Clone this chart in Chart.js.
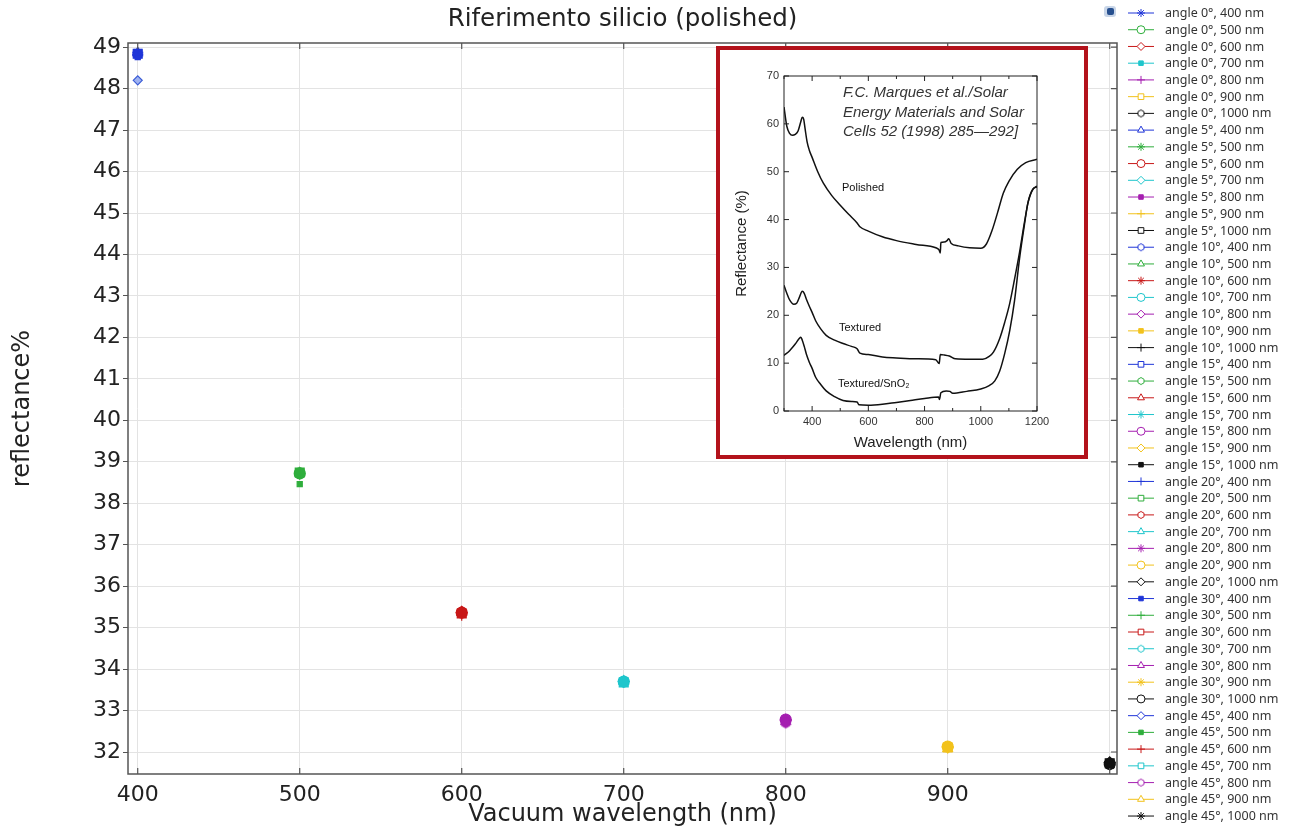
<!DOCTYPE html>
<html>
<head>
<meta charset="utf-8">
<title>Riferimento silicio (polished)</title>
<script src="https://cdn.jsdelivr.net/npm/chart.js@4.4.1/dist/chart.umd.min.js"></script>
<style>
  html, body { margin: 0; padding: 0; background: #fff; }
  #base { position: relative; width: 1290px; height: 832px; overflow: hidden; }
  #grafica { position: absolute; left: 0; top: 0; }
  #riquadro { position: absolute; left: 716px; top: 46px; width: 372px; height: 413px;
              box-sizing: border-box; border: 4px solid #b3121b; background: #fff; }
  #graficaInset { display: block; }
</style>
</head>
<body>
<div id="base"></div>
<script>
/* DATI GRAFICO PRINCIPALE */
const angoli = [0, 5, 10, 15, 20, 30, 45];
const lunghezzeOnda = [400, 500, 600, 700, 800, 900, 1000];

const rifl0  = [48.86, 38.72, 35.36, 33.70, 32.76, 32.11, 31.73];
const rifl5  = [48.86, 38.72, 35.36, 33.70, 32.76, 32.11, 31.73];
const rifl10 = [48.85, 38.73, 35.37, 33.70, 32.77, 32.11, 31.73];
const rifl15 = [48.84, 38.73, 35.38, 33.71, 32.78, 32.12, 31.74];
const rifl20 = [48.82, 38.74, 35.39, 33.71, 32.79, 32.13, 31.75];
const rifl30 = [48.76, 38.70, 35.34, 33.69, 32.74, 32.10, 31.71];
const rifl45 = [48.20, 38.46, 35.30, 33.68, 32.70, 32.08, 31.69];
const riflPerAngolo = [rifl0, rifl5, rifl10, rifl15, rifl20, rifl30, rifl45];

const xTicks = [400, 500, 600, 700, 800, 900, 1000];
const xTickLabels = ['400', '500', '600', '700', '800', '900', ''];
const yTicks = [32, 33, 34, 35, 36, 37, 38, 39, 40, 41, 42, 43, 44, 45, 46, 47, 48, 49];

/* DATI INSET (Marques et al.) */
const polishedX = [300, 310, 320, 330, 340, 350, 360, 365, 370, 375, 382, 390, 400, 420, 440, 470, 500, 530, 560, 570, 600, 650, 700, 770, 840, 852, 856, 858, 870, 880, 886, 895, 920, 960, 1000, 1020, 1040, 1060, 1080, 1100, 1130, 1160, 1200];
const polishedY = [63.5, 59.5, 58.0, 57.6, 57.8, 58.5, 60.5, 61.4, 61.0, 59.0, 56.3, 54.5, 53.0, 50.0, 47.6, 45.0, 43.0, 41.1, 39.3, 38.5, 37.6, 36.4, 35.6, 34.8, 34.1, 33.6, 33.0, 35.2, 35.3, 35.6, 36.0, 35.0, 34.5, 34.1, 34.0, 34.9, 37.7, 41.5, 45.5, 48.0, 50.5, 51.9, 52.6];

const texturedX = [300, 310, 320, 335, 345, 355, 365, 372, 380, 390, 400, 413, 430, 450, 480, 510, 540, 560, 570, 600, 650, 700, 770, 840, 852, 856, 870, 888, 910, 960, 1007, 1030, 1045, 1067, 1085, 1103, 1120, 1138, 1155, 1168, 1185, 1200];
const texturedY = [26.3, 24.6, 23.2, 22.3, 22.5, 23.8, 25.0, 24.6, 23.3, 21.9, 20.6, 18.8, 17.2, 15.8, 14.8, 14.1, 13.5, 13.0, 12.1, 11.8, 11.3, 11.1, 10.9, 10.7, 9.9, 11.8, 11.7, 11.5, 10.9, 10.8, 10.8, 11.4, 12.3, 15.1, 18.5, 22.5, 27.5, 33.2, 39.3, 43.5, 46.3, 47.0];

const snoX = [300, 320, 340, 355, 360, 365, 372, 380, 390, 400, 413, 430, 450, 480, 510, 540, 560, 566, 600, 650, 700, 750, 800, 850, 853, 858, 877, 890, 900, 950, 1000, 1030, 1050, 1067, 1085, 1103, 1120, 1138, 1155, 1168, 1186, 1200];
const snoY = [11.6, 12.6, 14.0, 15.2, 15.4, 14.8, 13.5, 11.8, 10.2, 8.9, 7.0, 5.6, 4.2, 3.0, 2.2, 2.0, 1.9, 1.3, 1.2, 1.4, 1.8, 2.2, 2.6, 2.9, 2.4, 3.8, 4.2, 4.1, 3.7, 4.1, 4.6, 5.3, 6.3, 8.3, 12.0, 16.8, 23.0, 31.9, 38.8, 43.6, 46.4, 46.8];

const insetXTicks = [300, 400, 500, 600, 700, 800, 900, 1000, 1100, 1200];
const insetXLabels = [400, 600, 800, 1000, 1200];
const insetYTicks = [0, 10, 20, 30, 40, 50, 60, 70];

/* STILI */
const coloriOnda = ['#1f35d8', '#2fae3c', '#c81818', '#1fc6cc', '#a51fb0', '#f2c21c', '#111111'];
const tipiMarker = ['star', 'circle', 'rectRot', 'point', 'cross', 'rect', 'hex', 'triangle'];
const markerAperto = [false, true, true, false, false, true, true, true];

function esagono(colore, r, pieno) {
  let c = document.createElement('canvas');
  let s = Math.ceil(2 * r + 3);
  c.width = s; c.height = s;
  let g = c.getContext('2d');
  g.strokeStyle = colore;
  g.fillStyle = pieno ? colore : '#ffffff';
  g.lineWidth = 1;
  g.beginPath();
  for (let k = 0; k < 6; k++) {
    let a = Math.PI / 6 + k * Math.PI / 3;
    let px = s / 2 + r * Math.cos(a), py = s / 2 + r * Math.sin(a);
    if (k === 0) g.moveTo(px, py); else g.lineTo(px, py);
  }
  g.closePath(); g.fill(); g.stroke();
  return c;
}

let base = document.querySelector('#base');

let canvasMain = document.createElement('canvas');
canvasMain.id = 'grafica';
canvasMain.width = 1290; canvasMain.height = 832;
canvasMain.style.width = '1290px'; canvasMain.style.height = '832px';
base.appendChild(canvasMain);

/* DATASET: uno per ogni angolo/lunghezza d'onda */
let datasets = [];
angoli.forEach((ang, ai) => {
  lunghezzeOnda.forEach((wl, wi) => {
    let idx = ai * lunghezzeOnda.length + wi;
    let tipo = tipiMarker[idx % tipiMarker.length];
    let aperto = markerAperto[idx % tipiMarker.length];
    let col = coloriOnda[wi];
    let stile = tipo;
    if (tipo === 'hex') stile = esagono(col, 5, true);
    if (tipo === 'point') stile = 'rect';
    let raggio = 5.5;
    if (tipo === 'rect') raggio = 6.3;
    if (tipo === 'point') raggio = 3.6;
    let fondo = col;
    // rombo aperto isolato (45°, 400 nm)
    if (ang === 45 && tipo === 'rectRot') { fondo = '#9fb2f0'; raggio = 4.5; col = '#3a5cd6'; }
    datasets.push({
      label: 'angle ' + ang + '°, ' + wl + ' nm',
      data: [{ x: wl, y: riflPerAngolo[ai][wi] }],
      order: -idx,
      borderColor: col,
      backgroundColor: fondo,
      pointStyle: stile,
      pointRadius: raggio,
      pointBorderWidth: 1.2,
      legendaColore: coloriOnda[wi],
      legendaStile: tipo === 'hex' ? esagono(coloriOnda[wi], 3.5, false) : (tipo === 'point' ? 'rect' : tipo),
      legendaRaggio: tipo === 'point' ? 3.2 : 4,
      legendaAperto: aperto,
      showLine: false
    });
  });
});

/* TITOLO, BORDI E TACCHE INTERNE */
const bordiMain = {
  id: 'bordiMain',
  afterDraw(chart) {
    const { ctx, chartArea: a, scales } = chart;
    ctx.save();
    ctx.fillStyle = '#222';
    ctx.font = '24.5px "DejaVu Sans"';
    ctx.textAlign = 'center';
    ctx.textBaseline = 'middle';
    ctx.fillText('Riferimento silicio (polished)', (a.left + a.right) / 2, 20);

    ctx.strokeStyle = '#555';
    ctx.lineWidth = 1.5;
    ctx.strokeRect(a.left, a.top, a.right - a.left, a.bottom - a.top);
    ctx.lineWidth = 1.2;
    ctx.beginPath();
    xTicks.forEach(v => {
      let px = scales.x.getPixelForValue(v);
      ctx.moveTo(px, a.bottom); ctx.lineTo(px, a.bottom - 6);
      ctx.moveTo(px, a.top); ctx.lineTo(px, a.top + 6);
    });
    yTicks.forEach(v => {
      let py = scales.y.getPixelForValue(v);
      ctx.moveTo(a.right, py); ctx.lineTo(a.right - 6, py);
    });
    ctx.stroke();
    ctx.restore();
  }
};

/* LEGENDA LATERALE */
const legendaLaterale = {
  id: 'legendaLaterale',
  afterDraw(chart) {
    const ctx = chart.ctx;
    ctx.save();
    // piccola icona
    ctx.fillStyle = '#c9d6e8';
    ctx.beginPath(); ctx.roundRect(1104, 6, 12, 11, 3); ctx.fill();
    ctx.fillStyle = '#27508f';
    ctx.beginPath(); ctx.roundRect(1107, 8, 7, 7, 2); ctx.fill();

    ctx.font = '12.5px "Noto Sans"';
    ctx.textBaseline = 'middle';
    chart.data.datasets.forEach((ds, i) => {
      let y = 13 + i * 16.73;
      ctx.strokeStyle = ds.legendaColore;
      ctx.lineWidth = 1;
      ctx.beginPath(); ctx.moveTo(1128, y); ctx.lineTo(1154, y); ctx.stroke();
      ctx.fillStyle = ds.legendaAperto ? '#ffffff' : ds.legendaColore;
      Chart.helpers.drawPoint(ctx, { pointStyle: ds.legendaStile, rotation: 0, radius: ds.legendaRaggio, borderWidth: 1 }, 1141, y);
      ctx.fillStyle = '#333';
      ctx.fillText(ds.label, 1165, y + 0.5);
    });
    ctx.restore();
  }
};

new Chart(canvasMain.getContext('2d'), {
  type: 'scatter',
  data: { datasets: datasets },
  options: {
    responsive: false,
    animation: false,
    layout: { padding: { top: 43, right: 173, left: 0, bottom: 0 } },
    plugins: {
      legend: { display: false },
      tooltip: { enabled: false },
      title: { display: false }
    },
    scales: {
      x: {
        type: 'linear',
        min: 394,
        max: 1004.5,
        afterBuildTicks: s => { s.ticks = xTicks.map(v => ({ value: v })); },
        afterFit: s => { s.height = 58; },
        ticks: {
          callback: (v, i) => xTickLabels[i],
          color: '#222',
          font: { family: 'DejaVu Sans', size: 22 },
          padding: 8,
          maxRotation: 0,
          autoSkip: false
        },
        grid: { color: '#e3e3e3', lineWidth: 1, drawTicks: false },
        border: { display: false },
        title: {
          display: true,
          text: 'Vacuum wavelength (nm)',
          color: '#222',
          font: { family: 'DejaVu Sans', size: 24 },
          padding: { top: 0, bottom: 3 }
        }
      },
      y: {
        type: 'linear',
        min: 31.47,
        max: 49.1,
        afterBuildTicks: s => { s.ticks = yTicks.map(v => ({ value: v })); },
        afterFit: s => { s.width = 128; },
        ticks: {
          color: '#222',
          font: { family: 'DejaVu Sans', size: 22 },
          padding: 2,
          autoSkip: false
        },
        grid: { color: '#e3e3e3', lineWidth: 1, drawTicks: true, tickLength: 5, tickColor: '#555' },
        border: { display: false },
        title: {
          display: true,
          text: 'reflectance%',
          color: '#222',
          font: { family: 'DejaVu Sans', size: 24 },
          padding: { top: 8, bottom: 0 }
        }
      }
    }
  },
  plugins: [bordiMain, legendaLaterale]
});

/* INSET */
let riquadro = document.createElement('div');
riquadro.id = 'riquadro';
let canvasIns = document.createElement('canvas');
canvasIns.id = 'graficaInset';
canvasIns.width = 364; canvasIns.height = 405;
canvasIns.style.width = '364px'; canvasIns.style.height = '405px';
riquadro.appendChild(canvasIns);
base.appendChild(riquadro);

function punti(xs, ys) {
  return xs.map((x, i) => ({ x: x, y: ys[i] }));
}

const bordiInset = {
  id: 'bordiInset',
  afterDraw(chart) {
    const { ctx, chartArea: a, scales } = chart;
    ctx.save();
    ctx.strokeStyle = '#222';
    ctx.lineWidth = 1;
    ctx.strokeRect(a.left, a.top, a.right - a.left, a.bottom - a.top);
    ctx.beginPath();
    insetXTicks.forEach(v => {
      let px = scales.x.getPixelForValue(v);
      let l = insetXLabels.includes(v) ? 5 : 3;
      ctx.moveTo(px, a.bottom); ctx.lineTo(px, a.bottom - l);
      ctx.moveTo(px, a.top); ctx.lineTo(px, a.top + l);
    });
    insetYTicks.forEach(v => {
      let py = scales.y.getPixelForValue(v);
      ctx.moveTo(a.left, py); ctx.lineTo(a.left + 5, py);
      ctx.moveTo(a.right, py); ctx.lineTo(a.right - 5, py);
    });
    ctx.stroke();

    ctx.fillStyle = '#333';
    ctx.font = 'italic 15px "Liberation Sans"';
    ctx.textBaseline = 'middle';
    ctx.fillText('F.C. Marques et al./Solar', 123, 43);
    ctx.fillText('Energy Materials and Solar', 123, 63);
    ctx.fillText('Cells 52 (1998) 285\u2014292]', 123, 82);

    ctx.fillStyle = '#111';
    ctx.font = '11px "Liberation Sans"';
    ctx.fillText('Polished', 122, 138);
    ctx.fillText('Textured', 119, 278);
    ctx.fillText('Textured/SnO\u2082', 118, 334);
    ctx.restore();
  }
};

const stileLinea = { borderColor: '#111', borderWidth: 1.5, pointRadius: 0, cubicInterpolationMode: 'monotone', fill: false };

new Chart(canvasIns.getContext('2d'), {
  type: 'line',
  data: {
    datasets: [
      Object.assign({ label: 'Polished', data: punti(polishedX, polishedY) }, stileLinea),
      Object.assign({ label: 'Textured', data: punti(texturedX, texturedY) }, stileLinea),
      Object.assign({ label: 'Textured/SnO2', data: punti(snoX, snoY) }, stileLinea)
    ]
  },
  options: {
    responsive: false,
    animation: false,
    layout: { padding: { top: 26, right: 47, left: 0, bottom: 0 } },
    plugins: { legend: { display: false }, tooltip: { enabled: false } },
    scales: {
      x: {
        type: 'linear',
        min: 300,
        max: 1200,
        afterBuildTicks: s => { s.ticks = insetXTicks.map(v => ({ value: v })); },
        afterFit: s => { s.height = 44; },
        grid: { display: false, drawTicks: false },
        border: { display: false },
        ticks: {
          callback: v => insetXLabels.includes(v) ? String(v) : '',
          color: '#333',
          font: { family: 'Liberation Sans', size: 11 },
          padding: 4,
          maxRotation: 0,
          autoSkip: false
        },
        title: {
          display: true,
          text: 'Wavelength (nm)',
          color: '#222',
          font: { family: 'Liberation Sans', size: 15 },
          padding: { top: 0, bottom: 3 }
        }
      },
      y: {
        type: 'linear',
        min: 0,
        max: 70,
        afterBuildTicks: s => { s.ticks = insetYTicks.map(v => ({ value: v })); },
        afterFit: s => { s.width = 64; },
        grid: { display: false, drawTicks: false },
        border: { display: false },
        ticks: {
          color: '#333',
          font: { family: 'Liberation Sans', size: 11 },
          padding: 5,
          autoSkip: false
        },
        title: {
          display: true,
          text: 'Reflectance (%)',
          color: '#222',
          font: { family: 'Liberation Sans', size: 15 },
          padding: { top: 13, bottom: 0 }
        }
      }
    }
  },
  plugins: [bordiInset]
});
</script>
</body>
</html>
